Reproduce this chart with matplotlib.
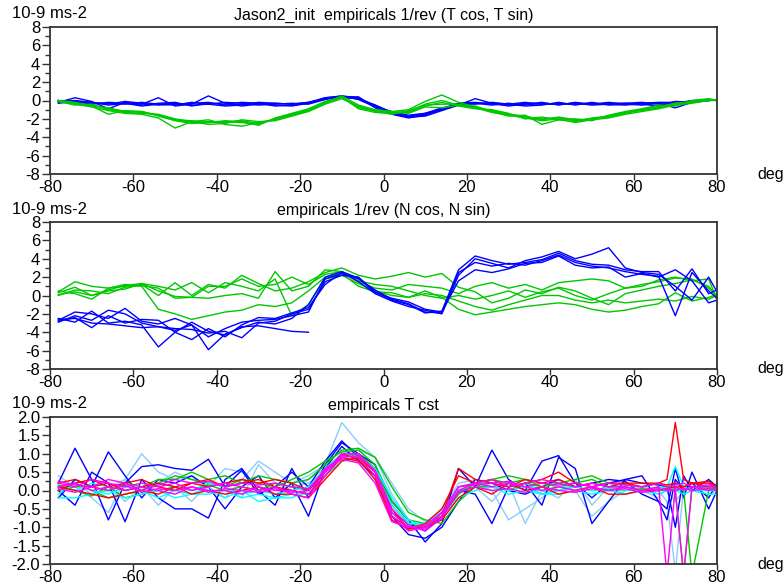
import matplotlib
matplotlib.use("Agg")
import matplotlib.pyplot as plt
from matplotlib.ticker import MultipleLocator, FormatStrFormatter

plt.rcParams['font.family'] = ['Liberation Sans', 'DejaVu Sans']
plt.rcParams['axes.unicode_minus'] = False

# latitude samples (deg)
lat = [-78, -74, -70, -66, -62, -58, -54, -50, -46, -42, -38, -34, -30, -26, -22,
       -18, -14, -10, -6, -2, 2, 6, 10, 14, 18, 22, 26, 30, 34, 38, 42, 46, 50,
       54, 58, 62, 66, 70, 74, 78, 80]
lat3 = [-78, -74, -70, -66, -62, -58, -54, -50, -46, -42, -38, -34, -30, -26, -22,
        -18, -14, -10, -6, -2, 2, 6, 10, 14, 18, 22, 26, 30, 34, 38, 42, 46, 50,
        54, 58, 62, 66, 68, 70, 72, 74, 78, 80]

# panel 1 : 1/rev T cos (blue), T sin (green)
tcos = [
    [-0.1, 0.0, -0.2, -0.4, -0.1, -0.3, -0.5, -0.4, -0.3, -0.2, -0.5, -0.4, -0.3, -0.5, -0.6, -0.3, 0.2, 0.5, 0.3, -0.6, -1.4, -1.8, -1.5, -0.9, -0.3, -0.2, -0.4, -0.5, -0.3, -0.4, -0.3, -0.4, -0.3, -0.4, -0.5, -0.3, -0.2, -0.2, -0.1, 0.1, 0.0],
    [-0.2, 0.3, -0.1, -0.9, -0.2, -0.4, 0.3, -0.6, -0.4, 0.5, -0.3, -0.6, -0.4, -0.3, -0.4, -0.2, 0.3, 0.4, 0.2, -0.5, -1.3, -1.7, -1.4, -0.8, -0.5, 0.2, -0.3, -0.6, -0.4, -0.2, -0.5, -0.2, -0.4, -0.3, -0.3, -0.4, -0.6, -0.1, -0.2, 0.0, 0.1],
    [0.0, -0.2, -0.3, -0.3, -0.4, -0.2, -0.4, -0.3, -0.5, -0.4, -0.2, -0.3, -0.5, -0.4, -0.3, -0.4, 0.1, 0.4, 0.4, -0.8, -1.5, -1.9, -1.6, -1.0, -0.4, -0.3, -0.5, -0.3, -0.5, -0.3, -0.4, -0.3, -0.5, -0.4, -0.3, -0.2, -0.4, -0.3, 0.0, 0.0, 0.1],
    [-0.1, -0.1, -0.2, -0.5, -0.3, -0.5, -0.3, -0.2, -0.6, -0.3, -0.4, -0.2, -0.3, -0.6, -0.5, -0.3, 0.3, 0.5, 0.1, -0.7, -1.2, -1.6, -1.4, -0.9, -0.3, -0.4, -0.2, -0.4, -0.6, -0.5, -0.2, -0.5, -0.2, -0.5, -0.4, -0.3, -0.3, -0.2, -0.1, 0.1, 0.0],
    [-0.3, -0.1, -0.4, -0.2, -0.3, -0.6, -0.4, -0.5, -0.2, -0.4, -0.6, -0.5, -0.2, -0.3, -0.4, -0.2, 0.2, 0.3, 0.2, -0.5, -1.3, -1.8, -1.7, -1.1, -0.5, -0.3, -0.3, -0.4, -0.2, -0.4, -0.4, -0.3, -0.4, -0.2, -0.4, -0.5, -0.3, -0.8, -0.2, 0.0, 0.1],
]
tsin = [
    [0.0, -0.3, -0.5, -0.9, -1.2, -1.3, -1.6, -2.1, -2.4, -2.3, -2.4, -2.2, -2.5, -2.0, -1.5, -1.0, -0.2, 0.3, -0.7, -1.1, -1.3, -1.2, -0.4, 0.0, -0.5, -0.8, -1.1, -1.5, -1.8, -2.0, -1.9, -2.2, -2.0, -1.8, -1.4, -1.0, -0.7, -0.4, -0.2, 0.1, 0.0],
    [-0.1, -0.4, -0.7, -1.1, -1.4, -1.5, -1.9, -3.0, -2.3, -2.1, -2.6, -2.8, -2.4, -2.1, -1.6, -1.1, -0.3, 0.5, -0.5, -1.0, -1.2, -1.0, -0.1, 0.6, -0.2, -0.7, -1.2, -1.7, -1.6, -2.6, -2.1, -2.0, -2.2, -1.6, -1.2, -0.9, -0.5, -0.6, 0.0, 0.2, 0.0],
    [0.0, -0.2, -0.6, -1.5, -1.1, -1.2, -1.7, -2.2, -2.5, -2.4, -2.2, -2.3, -2.7, -1.9, -1.4, -0.9, -0.1, 0.4, -0.9, -1.3, -1.4, -1.3, -0.6, -0.2, -0.6, -0.9, -1.0, -1.4, -2.0, -1.8, -2.1, -2.3, -1.9, -1.7, -1.3, -1.1, -0.8, -0.3, -0.1, 0.0, 0.0],
    [-0.1, -0.5, -0.4, -1.0, -1.3, -1.4, -1.5, -2.0, -2.3, -2.6, -2.5, -2.1, -2.3, -2.2, -1.7, -1.2, -0.4, 0.2, -0.6, -1.2, -1.5, -1.1, -0.5, -0.4, -0.4, -0.8, -1.3, -1.6, -1.9, -2.2, -2.0, -2.4, -2.1, -1.9, -1.5, -1.2, -0.9, -0.5, -0.3, 0.0, 0.1],
    [0.0, -0.3, -0.6, -0.8, -1.2, -1.2, -1.6, -2.1, -2.2, -2.4, -2.3, -2.4, -2.6, -2.0, -1.5, -1.1, -0.2, 0.3, -0.8, -1.1, -1.2, -1.4, -0.7, -0.8, -0.5, -0.6, -1.2, -1.5, -1.7, -2.1, -1.8, -2.1, -2.0, -1.8, -1.3, -1.0, -0.7, -0.3, -0.2, 0.1, 0.0],
]

# panel 2 : 1/rev N cos (blue), N sin (green)
ncos = [
    [-2.7, -1.8, -2.0, -2.5, -1.4, -2.8, -3.1, -2.5, -3.2, -4.5, -3.6, -2.9, -2.7, -2.6, -2.2, -1.8, 1.8, 2.4, 1.8, 0.6, -0.4, -0.9, -1.8, -1.9, 2.5, 3.6, 3.2, 3.5, 3.3, 3.8, 4.4, 3.6, 3.2, 3.0, 2.6, 2.3, 2.1, -2.2, 2.5, 0.5, -0.3],
    [-2.5, -2.9, -1.7, -3.0, -2.8, -3.2, -5.6, -4.0, -4.8, -3.6, -4.5, -3.2, -2.4, -2.5, -1.9, -1.3, 1.2, 2.5, 1.5, 0.2, -0.6, -1.2, -1.6, -2.0, 2.2, 4.0, 3.5, 3.0, 3.8, 4.2, 4.8, 4.0, 4.5, 5.2, 3.0, 2.5, 2.3, 1.0, -0.5, 2.0, 0.4],
    [-2.9, -2.2, -2.7, -1.6, -2.0, -3.0, -3.4, -3.8, -3.2, -5.9, -4.2, -3.5, -2.9, -3.1, -2.5, -1.0, 2.0, 2.6, 1.9, 0.3, -0.3, -0.7, -1.5, -1.8, 1.6, 2.8, 2.5, 2.9, 3.5, 3.6, 4.3, 3.3, 3.0, 3.1, 2.0, 2.4, 2.0, 2.8, 1.6, -0.8, -0.5],
    [-2.6, -2.5, -3.0, -3.1, -3.3, -3.5, -3.4, -3.6, -3.7, -4.1, -3.9, -4.6, -3.0, -2.8, -2.0, -1.5, 1.5, 2.2, 2.0, 0.4, -0.5, -1.0, -1.9, -1.7, 2.8, 4.3, 3.8, 3.4, 3.6, 3.9, 4.6, 3.8, 3.4, 3.3, 2.8, 2.6, 2.6, 0.5, 2.9, 0.2, 0.6],
    [-2.8, -2.4, -3.5, -2.2, -3.0, -2.6, -2.7, -4.0, -2.9, -3.9, -4.3, -3.4, -3.3, -3.6, -3.9, -4.0],
]
nsin = [
    [0.4, 1.5, 1.0, 0.8, 1.0, 1.2, 0.0, 1.4, 0.0, 1.2, 0.8, 2.2, 1.3, 0.5, 0.8, 1.5, 2.5, 3.0, 2.2, 1.8, 2.1, 2.5, 2.0, 2.4, 0.9, 0.4, -0.8, -0.3, 0.6, 0.2, 0.9, 0.5, -0.3, -1.0, 0.2, 0.6, 1.0, 1.3, 1.7, 1.0, -0.2],
    [0.0, 0.6, 0.5, 0.2, 0.9, 1.1, 0.8, -0.3, -0.2, -0.3, 0.0, 0.2, -0.3, 2.6, 0.5, 1.0, 2.8, 2.6, 1.5, 0.8, 0.6, 1.2, 1.0, 0.8, 0.2, 1.0, 1.4, 0.8, 1.2, 0.6, 1.4, 1.6, 1.8, 1.6, 0.8, 1.2, 1.5, 1.9, 1.8, 0.8, 0.0],
    [0.5, 0.2, -0.4, 0.8, 1.2, 1.0, -1.5, -2.0, -2.6, -2.2, -1.8, -1.6, -1.0, -1.2, -0.8, 0.5, 2.0, 2.4, 1.0, 0.4, 0.3, -0.2, 0.2, 0.0, -0.6, -1.2, -1.6, -1.0, -0.5, 0.0, 0.0, -0.5, -0.8, -0.5, -0.8, -0.6, -0.4, -0.6, -0.1, -0.4, 0.0],
    [0.3, 0.9, 0.0, 0.5, 0.7, 1.3, 1.0, 0.6, 1.4, 0.3, 1.4, 1.0, 0.5, 1.8, -2.2, -1.0, 1.8, 2.2, 1.3, 0.5, 0.0, -0.2, 0.5, -0.2, -1.5, -2.1, -1.8, -1.5, -1.2, -1.0, -0.8, -1.0, -1.5, -1.8, -1.6, -1.2, -0.9, 0.3, -0.6, -0.2, 0.1],
    [0.1, 0.4, 0.0, 0.6, 1.1, 1.3, 0.5, -0.1, -0.2, 1.0, 1.0, 1.8, 1.0, 1.2, 2.0, 1.2, 2.3, 2.6, 1.6, 1.2, 1.0, 0.5, 0.0, -0.3, 0.0, -0.4, 0.0, 0.5, -0.2, 0.4, 0.8, 0.0, -0.5, 0.2, 0.8, 1.0, 1.7, 2.0, 1.6, 1.8, -0.5],
]

# panel 3 : T cst, one curve per arc
tcst_lightblue = [
    [0.4, 0.1, -0.2, -0.6, 0.3, 1.0, 0.5, 0.3, 0.4, 0.0, -0.2, 0.3, 0.8, 0.5, 0.2, 0.4, 0.7, 1.85, 1.3, 0.9, -0.1, -0.8, -1.0, -0.7, -0.1, 0.2, 0.0, -0.8, -0.5, -0.2, 0.1, 0.0, -0.7, -0.3, 0.0, 0.1, 0.0, -0.3, -2.2, 0.1, 0.0, -0.1, 0.0],
    [-0.2, 0.3, 0.1, 0.2, -0.3, 0.1, -0.4, 0.1, -0.3, 0.2, 0.1, -0.2, 0.7, 0.2, 0.0, 0.3, 0.6, 1.0, 1.1, 0.9, 0.2, -0.5, -0.85, -0.6, 0.0, 0.1, -0.3, 0.2, -0.9, 0.0, -0.2, 0.3, -0.4, 0.1, -0.1, 0.0, -0.2, 0.1, 0.2, -0.1, 0.0, 0.2, 0.0],
    [0.0, 0.2, -0.1, 0.1, 0.3, 0.0, 0.2, 0.5, 0.3, 0.1, 0.6, 0.5, 0.1, -0.1, 0.1, 0.2, 0.5, 0.9, 1.0, 0.7, -0.2, -0.9, -1.0, -0.5, 0.2, 0.3, 0.1, 0.0, 0.2, -0.1, 0.1, 0.0, 0.1, 0.2, 0.0, 0.1, -0.1, 0.0, -0.3, 0.0, 0.1, 0.0, 0.1],
]
tcst_blue = [
    [0.2, 1.15, 0.3, -0.8, 0.2, 0.65, 0.7, 0.6, 0.55, 0.85, 0.1, 0.55, -0.1, 0.1, 0.5, 0.1, 0.8, 1.35, 0.9, 0.6, -0.3, -0.8, -1.4, -0.9, 0.6, 0.1, 1.1, 0.3, 0.0, 0.8, 0.95, 0.2, -0.2, 0.2, 0.3, 0.2, 0.15, 0.1, -1.0, 0.4, 0.0, 0.3, 0.1],
    [0.0, -0.4, 0.5, 0.2, -0.85, 0.3, -0.2, -0.5, -0.5, -0.75, 0.3, 0.6, 0.0, -0.4, 0.6, -0.2, 0.7, 1.3, 1.0, 0.7, -0.6, -0.9, -1.1, -0.7, 0.0, -0.1, -0.9, 0.1, 0.2, -0.4, 0.9, 0.6, -0.9, -0.3, 0.3, 0.4, -0.3, -0.8, 0.3, 0.0, 0.2, -0.2, 0.2],
    [-0.2, 0.3, 0.1, 1.05, 0.4, -0.2, 0.3, 0.2, 0.4, 0.1, -0.5, 0.1, 0.4, -0.2, 0.2, -0.7, 0.6, 1.2, 0.8, 0.4, -0.7, -1.2, -1.3, -1.0, -0.3, 0.3, 0.2, 0.0, -0.1, 0.1, 0.3, 0.1, 0.2, 0.3, 0.25, -0.1, -0.3, -0.5, 0.6, -0.2, 0.5, -0.5, 0.0],
]
tcst_green = [
    [0.1, 0.2, 0.0, -0.2, -0.1, 0.0, 0.2, 0.4, 0.3, 0.2, 0.1, 0.3, 0.2, 0.1, 0.3, 0.5, 0.8, 1.05, 1.1, 0.7, -0.3, -0.8, -0.9, -0.7, -0.1, 0.2, 0.3, 0.2, 0.3, 0.1, 0.2, 0.3, 0.4, 0.2, 0.15, 0.1, 0.2, 0.1, 0.0, -2.3, 0.1, 0.1, 0.1],
    [0.0, 0.1, 0.1, 0.0, 0.2, 0.1, 0.3, 0.3, 0.5, 0.3, 0.4, 0.2, 0.4, 0.3, 0.2, 0.3, 0.7, 1.1, 1.15, 0.9, 0.1, -0.6, -0.8, -0.9, -0.3, 0.1, 0.3, 0.4, 0.3, 0.2, 0.1, 0.2, 0.3, 0.1, 0.1, 0.0, 0.1, 0.0, 0.1, 0.0, -2.3, 0.0, 0.1],
    [0.15, 0.0, -0.15, 0.1, -0.2, -0.1, 0.0, 0.1, 0.0, 0.15, 0.0, 0.1, 0.0, 0.2, 0.1, 0.0, 0.55, 0.95, 1.0, 0.6, -0.4, -0.9, -1.0, -0.6, 0.0, 0.1, 0.1, 0.0, 0.2, 0.1, 0.0, 0.1, 0.0, 0.05, 0.0, 0.05, 0.0, 0.1, 0.05, 0.0, 0.1, 0.05, 0.1],
]
tcst_cyan = [
    [-0.1, 0.2, 0.0, -0.1, 0.1, 0.0, -0.2, 0.0, -0.1, 0.1, -0.2, 0.0, -0.3, -0.2, -0.2, 0.0, 0.5, 0.9, 0.8, 0.3, -0.6, -1.0, -0.95, -0.6, 0.1, 0.2, 0.1, 0.0, 0.1, -0.1, 0.0, 0.1, 0.0, 0.05, 0.0, 0.0, 0.05, 0.1, 0.65, 0.1, 0.0, 0.0, 0.0],
    [0.1, 0.0, 0.2, 0.1, 0.0, 0.1, 0.2, 0.1, 0.0, 0.2, 0.1, -0.1, 0.0, -0.1, 0.0, 0.1, 0.6, 1.0, 0.9, 0.5, -0.4, -0.9, -0.9, -0.5, 0.0, 0.2, 0.2, 0.1, 0.2, 0.0, 0.1, 0.1, 0.0, 0.1, 0.1, 0.0, 0.0, 0.0, 0.1, 0.0, 0.1, 0.0, 0.0],
    [-0.2, -0.2, -0.1, 0.0, -0.2, -0.1, 0.0, -0.2, -0.1, -0.1, 0.0, -0.2, -0.1, -0.2, -0.1, -0.1, 0.4, 0.8, 0.9, 0.6, -0.2, -0.8, -1.0, -0.7, -0.2, 0.0, 0.1, -0.1, 0.0, -0.1, -0.1, 0.0, -0.1, 0.0, -0.1, 0.0, -0.1, 0.0, 0.0, -0.1, 0.0, -0.1, -0.1],
]
tcst_red = [
    [0.2, 0.3, 0.1, 0.2, 0.0, 0.1, 0.2, 0.1, 0.2, 0.3, 0.1, 0.2, 0.3, 0.1, 0.0, -0.1, 0.4, 0.9, 0.8, 0.4, -0.7, -1.0, -1.0, -0.7, 0.6, 0.3, 0.2, 0.1, 0.2, 0.3, 0.5, 0.2, 0.1, 0.2, 0.2, 0.2, 0.2, 0.3, 1.85, 0.3, 0.2, 0.2, 0.1],
    [0.1, 0.0, -0.1, -0.2, -0.1, 0.0, -0.1, 0.1, -0.1, 0.0, -0.1, 0.0, 0.1, -0.1, -0.1, -0.2, 0.3, 0.8, 0.9, 0.5, -0.5, -1.05, -1.0, -0.8, -0.2, 0.1, -0.1, 0.2, 0.0, 0.1, -0.1, 0.0, 0.1, -0.1, -0.1, 0.0, 0.0, 0.05, 0.1, 0.1, 0.2, 0.1, 0.15],
    [0.0, 0.2, 0.3, 0.1, 0.2, 0.3, 0.1, 0.0, 0.2, 0.1, 0.2, 0.3, 0.2, 0.3, 0.2, 0.0, 0.5, 1.0, 0.85, 0.3, -0.8, -1.05, -0.9, -0.5, 0.4, 0.2, 0.3, 0.1, 0.3, 0.2, 0.3, 0.1, 0.2, 0.1, 0.2, 0.1, 0.2, 0.15, 0.2, 0.1, 0.2, 0.25, 0.1],
]
tcst_magenta = [
    [0.2, 0.1, 0.3, 0.2, 0.1, 0.2, 0.1, 0.2, 0.0, 0.1, 0.2, 0.1, 0.0, 0.1, -0.1, -0.2, 0.4, 0.95, 0.9, 0.4, -0.6, -1.0, -1.05, -0.6, 0.1, 0.2, 0.3, 0.1, 0.2, 0.3, 0.2, 0.1, 0.2, 0.1, 0.1, 0.0, 0.1, -2.3, 0.1, 0.0, 0.1, 0.1, 0.1],
    [0.1, 0.2, 0.0, 0.1, 0.0, 0.1, 0.0, -0.1, 0.1, 0.0, 0.0, -0.1, 0.1, 0.0, 0.0, -0.1, 0.5, 1.0, 1.0, 0.5, -0.7, -1.1, -1.0, -0.7, 0.0, 0.2, 0.1, 0.2, 0.1, 0.0, 0.1, 0.0, 0.1, 0.0, 0.1, 0.0, 0.05, 0.0, 0.0, -2.3, 0.1, 0.0, 0.05],
    [0.25, 0.15, 0.1, 0.3, 0.2, 0.0, 0.15, 0.3, 0.2, 0.25, 0.1, 0.2, 0.15, 0.2, 0.1, 0.05, 0.55, 0.85, 0.75, 0.2, -0.85, -1.0, -0.95, -0.6, 0.1, 0.15, 0.2, 0.25, 0.1, 0.2, 0.15, 0.2, 0.1, 0.2, 0.15, 0.1, 0.2, 0.1, 0.15, 0.2, 0.1, 0.15, 0.1],
    [0.05, -0.05, 0.1, 0.0, 0.15, -0.05, 0.05, 0.0, 0.1, -0.05, 0.05, 0.0, -0.05, 0.05, -0.05, 0.0, 0.6, 0.9, 0.95, 0.55, -0.5, -0.95, -1.1, -0.75, -0.05, 0.1, 0.0, 0.05, -0.05, 0.1, 0.0, -0.05, 0.05, 0.0, 0.05, -0.05, 0.0, 0.05, 0.0, 0.05, 0.0, 0.05, 0.0],
]

BLUE = '#0000ff'
GREEN = '#00c800'
LBLUE = '#87cefa'
CYAN = '#00ffff'
RED = '#ff0000'
MAGENTA = '#ff00ff'
LW = 1.0

fig = plt.figure(figsize=(7.83, 5.86), dpi=100)
W, H = 783.0, 586.0


def make_axes(top, bottom):
    ax = fig.add_axes([50 / W, 1 - bottom / H, 667 / W, (bottom - top) / H])
    ax.set_xlim(-80, 80)
    ax.xaxis.set_major_locator(MultipleLocator(20))
    ax.tick_params(axis='both', which='major', direction='out', length=6,
                   width=1.0, labelsize=12, colors='#333333', labelcolor='black', pad=1)
    ax.tick_params(axis='y', which='minor', direction='out', length=3.5,
                   width=1.0, colors='#333333')
    ax.tick_params(axis='x', which='major', length=4, pad=0)
    for s in ax.spines.values():
        s.set_color('#333333')
        s.set_linewidth(1.3)
    return ax


# panel 1
ax1 = make_axes(27, 174)
for ys in tcos:
    ax1.plot(lat, ys, color=BLUE, lw=LW)
for ys in tsin:
    ax1.plot(lat, ys, color=GREEN, lw=LW)
ax1.set_ylim(-8, 8)
ax1.yaxis.set_major_locator(MultipleLocator(2))
ax1.yaxis.set_minor_locator(MultipleLocator(1))
ax1.set_title('Jason2_init  empiricals 1/rev (T cos, T sin)', fontsize=11.5, pad=5)

# panel 2
ax2 = make_axes(222, 369)
for ys in nsin:
    ax2.plot(lat, ys, color=GREEN, lw=LW)
for ys in ncos:
    ax2.plot(lat[:len(ys)], ys, color=BLUE, lw=LW)
ax2.set_ylim(-8, 8)
ax2.yaxis.set_major_locator(MultipleLocator(2))
ax2.yaxis.set_minor_locator(MultipleLocator(1))
ax2.set_title('empiricals 1/rev (N cos, N sin)', fontsize=11.5, pad=5)

# panel 3
ax3 = make_axes(417, 564)
for group, col in [(tcst_lightblue, LBLUE), (tcst_blue, BLUE), (tcst_green, GREEN),
                   (tcst_cyan, CYAN), (tcst_red, RED), (tcst_magenta, MAGENTA)]:
    for ys in group:
        ax3.plot(lat3, ys, color=col, lw=LW)
ax3.set_ylim(-2, 2)
ax3.yaxis.set_major_locator(MultipleLocator(0.5))
ax3.yaxis.set_minor_locator(MultipleLocator(0.25))
ax3.yaxis.set_major_formatter(FormatStrFormatter('%.1f'))
ax3.set_title('empiricals T cst', fontsize=11.5, pad=5)

# unit labels
for top, bottom in [(27, 174), (222, 369), (417, 564)]:
    fig.text(12 / W, 1 - (top - 13) / H, '10-9 ms-2', fontsize=12, va='center', ha='left')
    fig.text(757 / W, 1 - bottom / H, 'deg', fontsize=11.5, va='center', ha='left')

fig.savefig('out.png', dpi=100)
